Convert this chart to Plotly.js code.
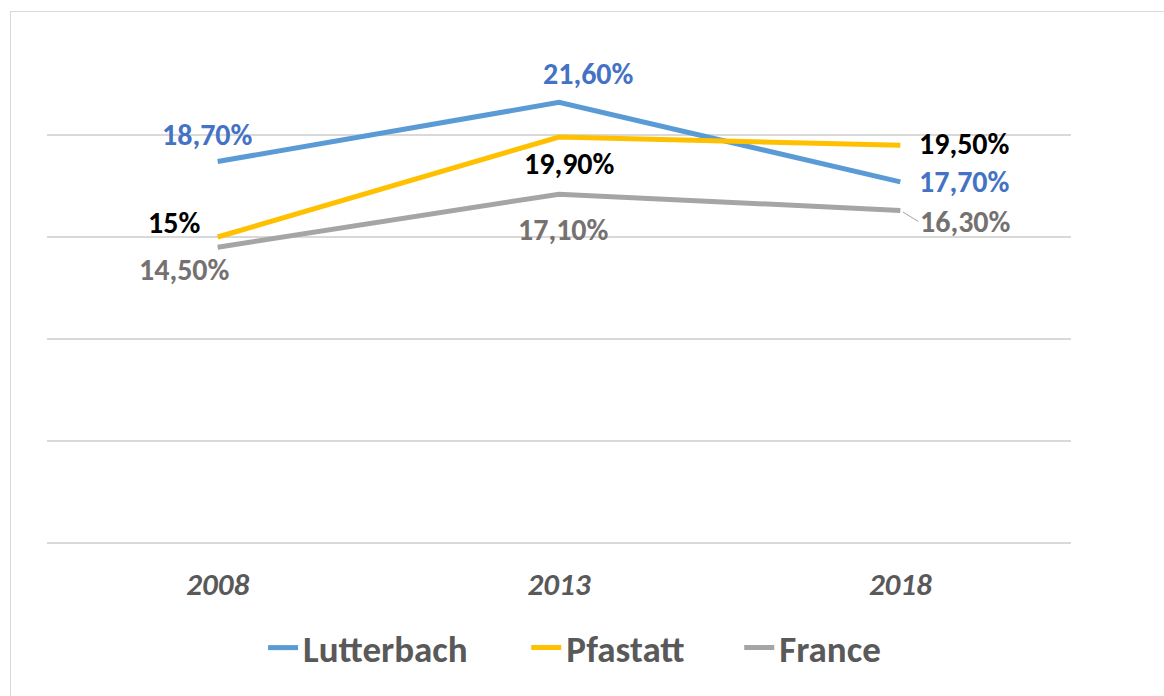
<!DOCTYPE html>
<html>
<head>
<meta charset="utf-8">
<script src="https://cdn.plot.ly/plotly-3.0.1.min.js"></script>
<style>
  html, body { margin: 0; padding: 0; background: #fff; }
  #wrap { position: relative; width: 1164px; height: 696px; overflow: hidden; }
  #chart { position: absolute; left: 0; top: 0; width: 1164px; height: 696px; }
  #frame { position: absolute; left: 10px; top: 11px; width: 1200px; height: 700px;
           border-top: 1px solid #d9d9d9; border-left: 1px solid #d9d9d9; pointer-events: none; }
</style>
</head>
<body>
<div id="wrap"><div id="chart"></div><div id="frame"></div></div>
<script>
const years = ['2008', '2013', '2018'];
const lutterbach = [18.7, 21.6, 17.7];
const pfastatt = [15.0, 19.9, 19.5];
const france = [14.5, 17.1, 16.3];
const lutterbachLabels = ['18,70%', '21,60%', '17,70%'];
const pfastattLabels = ['15%', '19,90%', '19,50%'];
const franceLabels = ['14,50%', '17,10%', '16,30%'];
const seriesNames = ['Lutterbach', 'Pfastatt', 'France'];

const FONT = 'Carlito, Lato, sans-serif';
const lineColors = ['#5B9BD5', '#FFC000', '#A5A5A5'];
const labelColors = ['#4472C4', '#000000', '#767171'];
const legendIds = ['legend', 'legend2', 'legend3'];
const legendX = [0.211, 0.468, 0.676];

const seriesValues = [lutterbach, pfastatt, france];
const seriesLabels = [lutterbachLabels, pfastattLabels, franceLabels];

const traces = seriesValues.map((vals, i) => ({
  type: 'scatter', mode: 'lines', x: years.slice(), y: vals.slice(), name: seriesNames[i],
  legend: legendIds[i],
  line: { color: lineColors[i], width: 5, shape: 'linear' },
  hoverinfo: 'skip'
}));

// label placement (style only): [xanchor, xshift, yshift]
const place = [
  [['center', -10, 27], ['center', 29, 29], ['left', 17, 0]],
  [['right', -16, 15], ['center', 10, -26], ['left', 17, 2]],
  [['center', -33, -22], ['center', 4, -35], ['left', 17, -12]]
];

const annotations = [];
seriesValues.forEach((vals, s) => {
  vals.forEach((v, k) => {
    const p = place[s][k];
    const a = {
      x: k, y: v, xref: 'x', yref: 'y',
      text: seriesLabels[s][k], showarrow: false,
      xanchor: p[0], yanchor: 'middle', xshift: p[1], yshift: p[2],
      font: { family: FONT, size: 30, color: labelColors[s], weight: 'bold' }
    };
    if (s === 2 && k === 2) {
      Object.assign(a, { showarrow: true, arrowhead: 0, arrowwidth: 1, arrowcolor: '#A5A5A5',
        ax: 18, ay: 11, xanchor: 'left', xshift: 0, yshift: 0, standoff: 3 });
    }
    annotations.push(a);
  });
});

const layout = {
  width: 1164, height: 696,
  margin: { l: 47, r: 93, t: 33, b: 153 },
  paper_bgcolor: 'rgba(0,0,0,0)', plot_bgcolor: '#fff',
  showlegend: true,
  xaxis: {
    type: 'category', categoryorder: 'array', categoryarray: years,
    range: [-0.5, 2.5], autorange: false,
    showgrid: false, zeroline: false, showline: false,
    ticks: 'outside', ticklen: 14, tickcolor: 'rgba(0,0,0,0)',
    tickfont: { family: FONT, size: 31, color: '#595959', weight: 'bold', style: 'italic' }
  },
  yaxis: {
    range: [0, 25], autorange: false, dtick: 5, showticklabels: false, showgrid: true,
    gridcolor: '#d9d9d9', gridwidth: 2, zeroline: true, zerolinecolor: '#d9d9d9', zerolinewidth: 2,
    showline: false
  },
  annotations: annotations
};
legendIds.forEach((id, i) => {
  layout[id] = {
    orientation: 'h', x: legendX[i], xanchor: 'left', y: -0.206, yanchor: 'middle',
    bgcolor: 'rgba(0,0,0,0)',
    font: { family: FONT, size: 37, color: '#595959', weight: 'bold' }
  };
});

Plotly.newPlot('chart', traces, layout, { displayModeBar: false, staticPlot: true });
</script>
</body>
</html>
